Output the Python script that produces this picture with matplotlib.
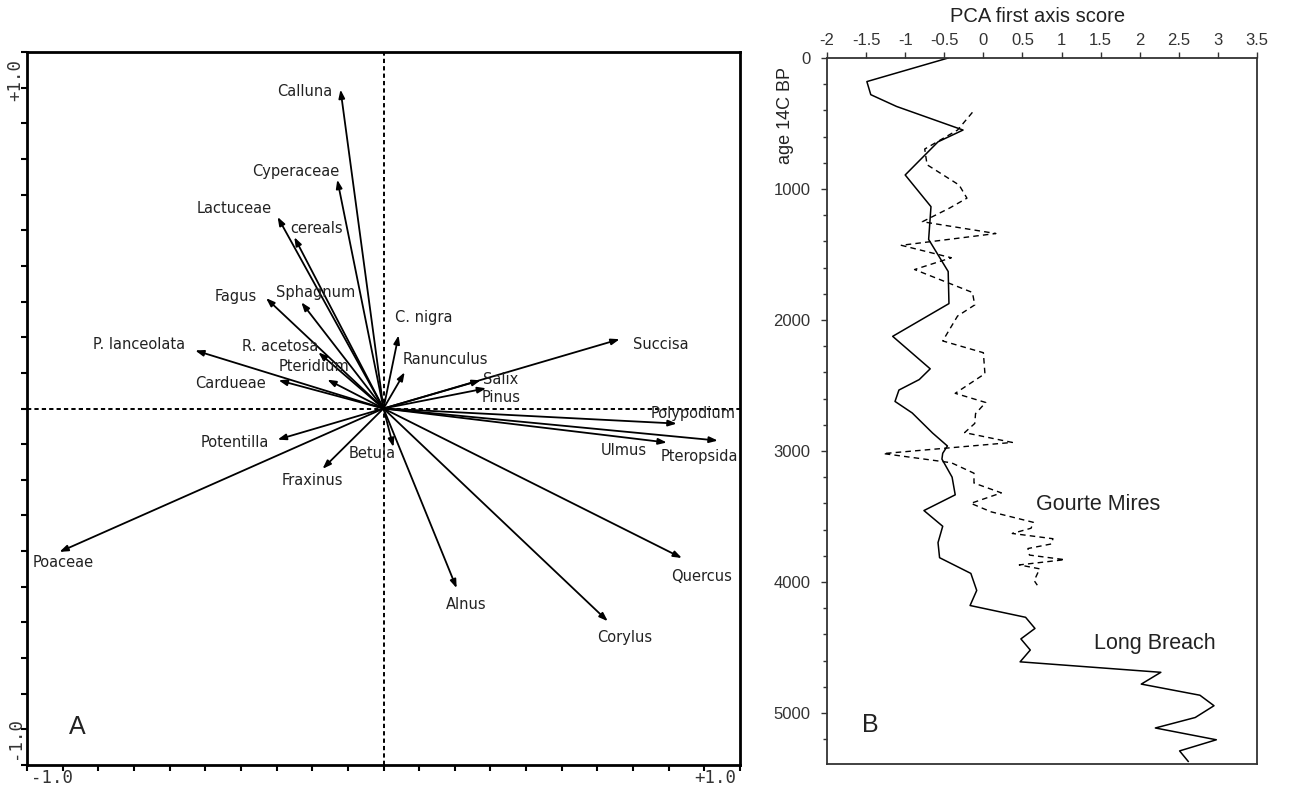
import numpy as np
import matplotlib
matplotlib.use('Agg')
import matplotlib.pyplot as plt
from matplotlib.ticker import MultipleLocator, FixedLocator, NullFormatter

# ---- panel A: PCA loadings of pollen taxa
taxa = ['Calluna', 'Cyperaceae', 'Lactuceae', 'cereals', 'Fagus', 'Sphagnum',
        'P. lanceolata', 'R. acetosa', 'Pteridium', 'Cardueae', 'C. nigra',
        'Ranunculus', 'Succisa', 'Salix', 'Pinus', 'Polypodium', 'Pteropsida',
        'Ulmus', 'Quercus', 'Corylus', 'Alnus', 'Betula', 'Fraxinus',
        'Potentilla', 'Poaceae']
axis1 = [-0.134, -0.144, -0.330, -0.278, -0.366, -0.256, -0.587, -0.203,
         -0.175, -0.327, 0.047, 0.066, 0.736, 0.303, 0.320, 0.914, 1.042,
         0.883, 0.930, 0.699, 0.228, 0.031, -0.190, -0.330, -1.010]
axis2 = [0.994, 0.713, 0.597, 0.534, 0.344, 0.331, 0.181, 0.175, 0.090,
         0.088, 0.228, 0.113, 0.216, 0.088, 0.063, -0.047, -0.100, -0.106,
         -0.466, -0.663, -0.560, -0.120, -0.188, -0.097, -0.447]

# ---- panel B: first axis score against age
lb_age = [0, 180, 280, 370, 550, 640, 893, 1135, 1385, 1630, 1875, 2125,
          2373, 2455, 2535, 2622, 2710, 2863, 2962, 3018, 3062, 3200, 3335,
          3455, 3575, 3700, 3815, 3935, 4065, 4180, 4270, 4355, 4435, 4520,
          4610, 4690, 4780, 4865, 4945, 5035, 5115, 5205, 5290, 5370]
lb_score = [-0.45, -1.49, -1.44, -1.11, -0.26, -0.58, -1.00, -0.67, -0.70,
            -0.45, -0.44, -1.16, -0.68, -0.82, -1.08, -1.13, -0.91, -0.65,
            -0.46, -0.52, -0.53, -0.40, -0.36, -0.76, -0.52, -0.58, -0.56,
            -0.16, -0.085, -0.17, 0.54, 0.66, 0.48, 0.60, 0.47, 2.27, 2.02,
            2.77, 2.95, 2.71, 2.20, 2.98, 2.51, 2.62]

gm_age = [415, 550, 695, 815, 970, 1070, 1145, 1250, 1340, 1430, 1525, 1615,
          1790, 1885, 1970, 2160, 2250, 2410, 2560, 2630, 2715, 2790, 2860,
          2935, 3020, 3090, 3170, 3245, 3320, 3400, 3465, 3545, 3590, 3630,
          3670, 3710, 3745, 3795, 3830, 3870, 3900, 3990, 4025]
gm_score = [-0.14, -0.33, -0.75, -0.72, -0.31, -0.21, -0.43, -0.78, 0.16,
            -1.05, -0.41, -0.88, -0.14, -0.11, -0.33, -0.52, 0.00, 0.02,
            -0.36, 0.03, -0.10, -0.11, -0.24, 0.37, -1.28, -0.41, -0.12,
            -0.12, 0.23, -0.16, 0.10, 0.64, 0.61, 0.37, 0.89, 0.87, 0.57,
            0.59, 1.04, 0.46, 0.72, 0.65, 0.69]

# label offsets from arrow tips (pixels)
label_offsets = {
    'Calluna': (-36, -2), 'Cyperaceae': (-42, 8), 'Lactuceae': (-43, 8),
    'cereals': (22, 9), 'Fagus': (-30, 2), 'Sphagnum': (14, 10),
    'P. lanceolata': (-56, 6), 'R. acetosa': (-38, 6), 'Pteridium': (-13, 13),
    'Cardueae': (-48, -3), 'C. nigra': (25, 18), 'Ranunculus': (41, 13),
    'Succisa': (41, -5), 'Salix': (20, 1), 'Pinus': (15, -9),
    'Polypodium': (16, 10), 'Pteropsida': (-18, -16), 'Ulmus': (-43, -8),
    'Quercus': (20, -18), 'Corylus': (17, -16), 'Alnus': (10, -16),
    'Betula': (-21, -6), 'Fraxinus': (-10, -12), 'Potentilla': (-43, -3),
    'Poaceae': (4, -11),
}

W, H = 1294, 788
fig = plt.figure(figsize=(W / 100, H / 100), dpi=100)

# ---------------- panel A
ax1 = fig.add_axes([27 / W, 1 - 765 / H, 713 / W, 713 / H])
lim = 10 / 9
ax1.set_xlim(-lim, lim)
ax1.set_ylim(-lim, lim)
ax1.axhline(0, color='k', lw=1.4, ls=(0, (2.2, 1.6)), zorder=1)
ax1.axvline(0, color='k', lw=1.4, ls=(0, (2.2, 1.6)), zorder=1)

for name, x, y in zip(taxa, axis1, axis2):
    ax1.annotate('', xy=(x, y), xytext=(0, 0),
                 arrowprops=dict(arrowstyle='-|>,head_length=0.5,head_width=0.18',
                                 color='k', lw=1.3, shrinkA=0, shrinkB=0))
    dx, dy = label_offsets[name]
    ax1.annotate(name, xy=(x, y), xytext=(dx, dy), textcoords='offset pixels',
                 ha='center', va='center', fontsize=10.5, color='#222222',
                 family='DejaVu Sans')

ticks = np.arange(-10, 11) / 9
ax1.xaxis.set_major_locator(FixedLocator(ticks))
ax1.yaxis.set_major_locator(FixedLocator(ticks))
ax1.xaxis.set_major_formatter(NullFormatter())
ax1.yaxis.set_major_formatter(NullFormatter())
ax1.tick_params(direction='out', length=4, width=1.5, top=False, right=False)
for sp in ax1.spines.values():
    sp.set_linewidth(2)

# end labels of the ordination axes, set a little outward like the original
mono = dict(family='DejaVu Sans Mono', fontsize=12.5, color='#333333',
            ha='center', va='center')
fig.text(52 / W, 1 - 778 / H, '-1.0', **mono)
fig.text(715 / W, 1 - 778 / H, '+1.0', **mono)
fig.text(15 / W, 1 - 80 / H, '+1.0', rotation=90, **mono)
fig.text(15 / W, 1 - 738 / H, '-1.0', rotation=90, **mono)

ax1.text(0.07, 0.053, 'A', transform=ax1.transAxes, ha='center', va='center',
         fontsize=18, family='Liberation Sans', color='#222222')

# ---------------- panel B
ax2 = fig.add_axes([827 / W, 1 - 764 / H, 430 / W, 706 / H])
ax2.plot(lb_score, lb_age, color='k', lw=1.1)
ax2.plot(gm_score, gm_age, color='k', lw=1.0, ls=(0, (4, 3)))
ax2.set_xlim(-2, 3.5)
ax2.set_ylim(5390, 0)
ax2.xaxis.tick_top()
ax2.xaxis.set_major_locator(MultipleLocator(0.5))
ax2.xaxis.set_major_formatter(lambda v, p: f'{v:g}')
ax2.yaxis.set_major_locator(MultipleLocator(1000))
ax2.yaxis.set_minor_locator(MultipleLocator(200))
ax2.tick_params(which='both', direction='out', length=4, width=1, color='#333333',
                labelsize=12, labelcolor='#333333')
ax2.tick_params(axis='x', pad=3)
ax2.tick_params(axis='y', pad=8)
ax2.tick_params(which='minor', length=3)
for lab in ax2.get_xticklabels() + ax2.get_yticklabels():
    lab.set_family('Liberation Sans')
for sp in ax2.spines.values():
    sp.set_linewidth(1.3)
    sp.set_color('#333333')
fig.text(1038 / W, 1 - 17 / H, 'PCA first axis score', ha='center',
         va='center', fontsize=14.5, family='Liberation Sans', color='#222222')
fig.text(785 / W, 1 - 115 / H, 'age 14C BP', rotation=90, ha='center',
         va='center', fontsize=13, family='Liberation Sans', color='#222222')

ax2.text(0.631, 0.367, 'Gourte Mires', transform=ax2.transAxes, ha='center',
         va='center', fontsize=15.5, family='Liberation Sans', color='#222222')
ax2.text(0.762, 0.171, 'Long Breach', transform=ax2.transAxes, ha='center',
         va='center', fontsize=15.5, family='Liberation Sans', color='#222222')
ax2.text(0.101, 0.055, 'B', transform=ax2.transAxes, ha='center',
         va='center', fontsize=18, family='Liberation Sans', color='#222222')

fig.savefig('out.png', dpi=100)
